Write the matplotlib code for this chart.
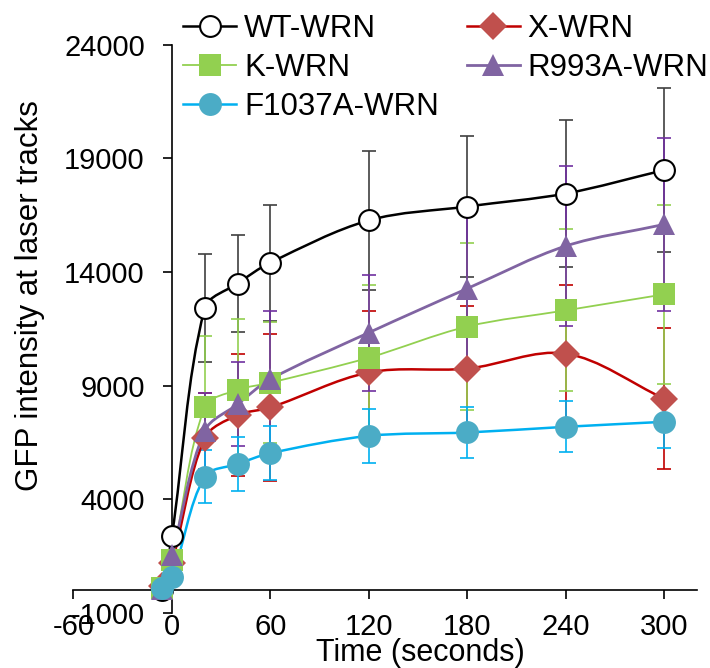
import numpy as np
import matplotlib
matplotlib.use("Agg")
import matplotlib.pyplot as plt
from matplotlib.path import Path
from matplotlib.patches import PathPatch
from matplotlib.lines import Line2D

plt.rcParams["font.family"] = ["Liberation Sans", "DejaVu Sans"]
plt.rcParams["axes.unicode_minus"] = False

# ---- data -----------------------------------------------------------------
time = [-6, 0, 20, 40, 60, 120, 180, 240, 300]

series = ["WT-WRN", "X-WRN", "K-WRN", "R993A-WRN", "F1037A-WRN"]

wt_wrn = [0, 2400, 12400, 13490, 14410, 16270, 16880, 17450, 18480]
wt_sd = [0, 0, 2370, 2120, 2550, 3060, 3120, 3240, 3600]

x_wrn = [200, 1190, 6690, 7700, 8040, 9580, 9750, 10410, 8430]
x_sd = [0, 0, 2000, 2690, 3230, 2700, 2750, 3020, 3100]

k_wrn = [100, 1350, 8050, 8810, 9130, 10230, 11600, 12310, 13015]
k_sd = [0, 0, 3120, 3140, 2670, 3200, 3690, 3560, 3950]

r993a_wrn = [50, 1550, 7010, 8180, 9280, 11330, 13270, 15140, 16090]
r993a_sd = [0, 0, 1680, 1840, 3000, 2550, 3300, 3530, 3790]

f1037a_wrn = [80, 570, 5000, 5550, 6030, 6790, 6940, 7190, 7410]
f1037a_sd = [0, 0, 1170, 1180, 1200, 1190, 1100, 1120, 1130]

x_ticks = [-60, 0, 60, 120, 180, 240, 300]
y_ticks = [-1000, 4000, 9000, 14000, 19000, 24000]

values = [wt_wrn, x_wrn, k_wrn, r993a_wrn, f1037a_wrn]
errors = [wt_sd, x_sd, k_sd, r993a_sd, f1037a_sd]

# style per series: line colour, marker, marker face, marker edge, size, line width, error colour
styles = [
    dict(lc="black", m="o", mfc="white", mec="black", ms=15, lw=1.8, ec="#404040", mew=1.5),
    dict(lc="#C00000", m="D", mfc="#C0504D", mec="#C0504D", ms=14, lw=1.8, ec="#C00000", mew=0),
    dict(lc="#92D050", m="s", mfc="#92D050", mec="#92D050", ms=15.5, lw=1.3, ec="#92D050", mew=0),
    dict(lc="#8064A2", m="^", mfc="#8064A2", mec="#8064A2", ms=16, lw=2.0, ec="#7030A0", mew=0),
    dict(lc="#00B0F0", m="o", mfc="#4BACC6", mec="#4BACC6", ms=16.5, lw=1.8, ec="#00B0F0", mew=0),
]


def smooth_path(ax, xs, ys, f=1/3):
    # smoothed line like a spreadsheet chart: cubic Bezier through every point,
    # handle lengths weighted by on-screen segment lengths to avoid overshoot
    pts = np.column_stack([xs, ys]).astype(float)
    disp = ax.transData.transform(pts)
    n = len(pts)
    seg = np.hypot(*np.diff(disp, axis=0).T)
    c_out, c_in = [], []
    for i in range(n):
        if i == 0:
            d = pts[1] - pts[0]
            c_out.append(pts[0] + d * f)
            c_in.append(pts[0])
        elif i == n - 1:
            d = pts[-1] - pts[-2]
            c_out.append(pts[-1])
            c_in.append(pts[-1] - d * f)
        else:
            d = pts[i + 1] - pts[i - 1]
            l1, l2 = seg[i - 1], seg[i]
            c_out.append(pts[i] + d * f * l2 / (l1 + l2))
            c_in.append(pts[i] - d * f * l1 / (l1 + l2))
    verts = [pts[0]]
    codes = [Path.MOVETO]
    for i in range(n - 1):
        verts += [c_out[i], c_in[i + 1], pts[i + 1]]
        codes += [Path.CURVE4] * 3
    return Path(verts, codes)


fig = plt.figure(figsize=(7.1, 6.68), dpi=100)
ax = fig.add_axes([0.1035, 0.0823, 0.878, 0.8509])
ax.set_xlim(-60, 320)
ax.set_ylim(-1000, 24000)

for i, (vals, sd, st) in enumerate(zip(values, errors, styles)):
    ax.errorbar(time, vals, yerr=sd, fmt="none", ecolor=st["ec"], elinewidth=1.2,
                capsize=4.8, capthick=1.2, zorder=2 + i * 0.01)
    ax.add_patch(PathPatch(smooth_path(ax, time, vals), facecolor="none", edgecolor=st["lc"],
                           lw=st["lw"], zorder=3 + i * 0.01))
    ax.plot(time, vals, linestyle="none", marker=st["m"], ms=st["ms"], mfc=st["mfc"],
            mec=st["mec"], mew=st["mew"], zorder=4 + i * 0.01)

ax.set_xlim(-60, 320)
ax.set_ylim(-1000, 24000)
ax.set_xticks(x_ticks)
ax.set_yticks(y_ticks)

ax.spines["top"].set_visible(False)
ax.spines["right"].set_visible(False)
ax.spines["left"].set_position(("data", 0))
ax.spines["bottom"].set_position(("data", 0))
ax.spines["left"].set_linewidth(1.2)
ax.spines["bottom"].set_linewidth(1.2)
ax.tick_params(axis="both", direction="out", length=6.5, width=1.2, labelsize=21)
ax.tick_params(axis="y", pad=13)
ax.tick_params(axis="x", pad=10)

ax.set_xlabel("Time (seconds)", fontsize=22, va="center")
ax.xaxis.set_label_coords(0.556, -0.071)
ax.set_ylabel("GFP intensity at laser tracks", fontsize=22.5, va="center")
ax.yaxis.set_label_coords(-0.07, 0.558)

handles = []
for st in styles:
    handles.append(Line2D([], [], color=st["lc"], lw=st["lw"], marker=st["m"], ms=st["ms"],
                          mfc=st["mfc"], mec=st["mec"], mew=st["mew"]))
order = [0, 2, 4, 1, 3]  # row-major layout in two columns
ax.legend([handles[j] for j in order], [series[j] for j in order], ncol=2,
          loc="upper left", bbox_to_anchor=(0.2577, 0.979), bbox_transform=fig.transFigure,
          frameon=False, fontsize=22.5, handlelength=1.7, handletextpad=0.25,
          columnspacing=0.9, labelspacing=0.28, borderpad=0, borderaxespad=0)

fig.savefig("out.png", dpi=100)
